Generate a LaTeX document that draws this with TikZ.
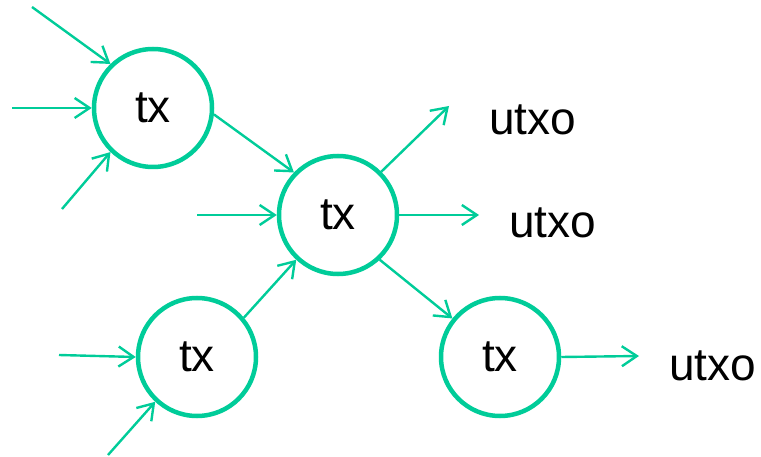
\documentclass[tikz,border=0pt]{standalone}
\usepackage{fontspec}
\setmainfont{Liberation Sans}
\usetikzlibrary{arrows.meta}
\definecolor{tealg}{RGB}{0,204,153}
\begin{document}
\begin{tikzpicture}[x=1pt,y=-1pt,
  txnode/.style={circle,draw=tealg,line width=4.5pt,minimum size=118pt,inner sep=0pt,font=\fontsize{46}{52}\selectfont},
  lbl/.style={anchor=base west,inner sep=0pt,font=\fontsize{46}{52}\selectfont},
  arr/.style={draw=tealg,line width=2.4pt,-{Straight Barb[length=15pt,width=20pt]}}]
\useasboundingbox (0,0) rectangle (761,457);
\node[txnode] (A) at (153,108) {tx};
\node[txnode] (B) at (338,215) {tx};
\node[txnode] (C) at (197,357) {tx};
\node[txnode] (D) at (500,357) {tx};
\node[lbl] (u1) at (489,135) {utxo};
\node[lbl] (u2) at (509,238) {utxo};
\node[lbl] (u3) at (669,380) {utxo};
\coordinate (a1) at (32,7);
\coordinate (a2) at (12,108);
\coordinate (a3) at (62,209);
\coordinate (b1) at (197,215);
\coordinate (c1) at (59,355);
\coordinate (c2) at (108,455);
\coordinate (o1) at (449,106);
\coordinate (o2) at (479,215);
\coordinate (o3) at (639,356);
\draw[arr] (a1) -- (A.134);
\draw[arr] (a2) -- (A.180);
\draw[arr] (a3) -- (A.226);
\draw[arr] (A.-6) -- (B.136);
\draw[arr] (b1) -- (B.180);
\draw[arr] (C.40) -- (B.227);
\draw[arr] (B.45) -- (o1);
\draw[arr] (B.0) -- (o2);
\draw[arr] (B.-47) -- (D.141);
\draw[arr] (c1) -- (C.180);
\draw[arr] (c2) -- (C.227);
\draw[arr] (D.0) -- (o3);
\end{tikzpicture}
\end{document}
